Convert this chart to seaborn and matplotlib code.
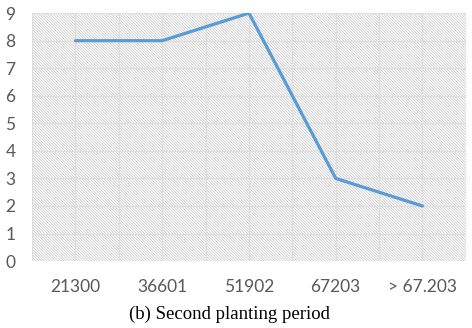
import pandas as pd
import matplotlib
matplotlib.use("Agg")
import matplotlib.pyplot as plt
import seaborn as sns
from matplotlib.patches import Rectangle

# values
categories = ["21300", "36601", "51902", "67203", "> 67.203"]
counts = [8, 8, 9, 3, 2]
y_ticks = list(range(0, 10))

df = pd.DataFrame({"class": categories, "count": counts})

sns.set_style("white")
plt.rcParams["font.family"] = ["Lato", "DejaVu Sans"]
plt.rcParams["hatch.linewidth"] = 0.5

fig = plt.figure(figsize=(4.72, 3.28), dpi=100)
ax = fig.add_axes([0.068, 0.204, 0.919, 0.756])

# hatched plot-area background (fine diagonal lines)
ax.add_patch(Rectangle((0, 0), 1, 1, transform=ax.transAxes, facecolor="white",
                       edgecolor="#c6c6c6", hatch="\\" * 12, lw=0, zorder=0))

sns.lineplot(data=df, x="class", y="count", sort=False, color="#5b9bd5",
             linewidth=2.3, ax=ax, zorder=3)

ax.set_xlim(-0.5, len(categories) - 0.5)
ax.set_ylim(0, 9)
ax.set_yticks(y_ticks)
ax.set_xticks(range(len(categories)))
ax.set_xticklabels(categories)

# gridlines: horizontal at every unit, vertical every half category
for y in y_ticks:
    ax.axhline(y, color="#dedede", lw=0.9, zorder=1)
for i in range(2 * len(categories) + 1):
    ax.axvline(-0.5 + i * 0.5, color="#dedede", lw=0.9, zorder=1)

for s in ax.spines.values():
    s.set_visible(False)
ax.tick_params(axis="both", length=0, labelsize=12.5, colors="#595959")
ax.tick_params(axis="y", pad=12)
ax.tick_params(axis="x", pad=13)
ax.set_xlabel("")
ax.set_ylabel("")

fig.text(0.486, 0.043, "(b) Second planting period", ha="center", va="center",
         fontsize=13.5, family=["Liberation Serif", "DejaVu Serif"], color="black")

fig.savefig("out.png", dpi=100)
